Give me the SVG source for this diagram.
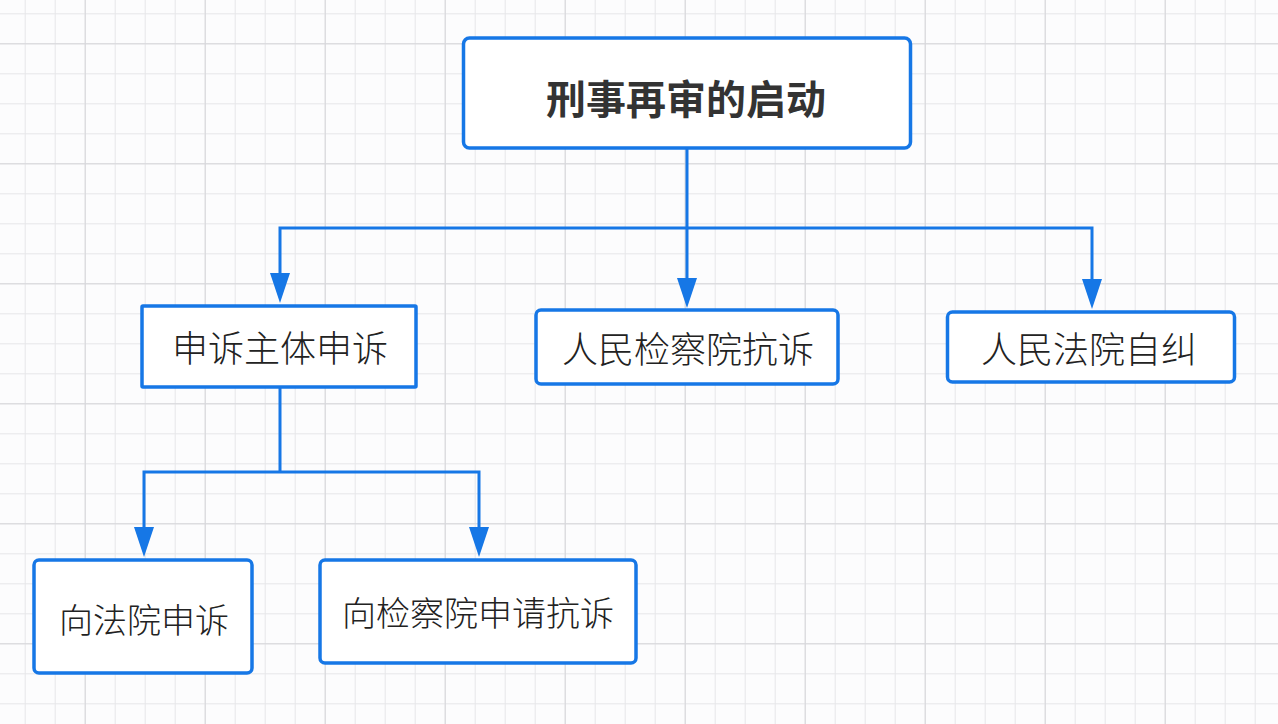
<svg xmlns="http://www.w3.org/2000/svg" width="1278" height="724" viewBox="0 0 1278 724">
<defs>
<style>
.box{fill:#ffffff;stroke:#1677e6;stroke-width:3.5}
.lbl{font-family:"Noto Sans CJK SC","Noto Sans",sans-serif;fill:#222222;text-anchor:middle;dominant-baseline:central;font-weight:300}
.title{font-family:"Noto Sans CJK SC","Noto Sans",sans-serif;fill:#333333;text-anchor:middle;dominant-baseline:central;font-weight:bold;font-size:40px}
.conn{fill:none;stroke:#1677e6;stroke-width:3;marker-end:url(#arr)}
.plain{fill:none;stroke:#1677e6;stroke-width:3}
</style>
<pattern id="minor" width="30" height="30" patternUnits="userSpaceOnUse" x="24.7" y="13.3">
<path d="M0.5 0V30M0 0.5H30" stroke="#e6e6e9" stroke-width="1" fill="none"/>
</pattern>
<pattern id="major" width="120" height="120" patternUnits="userSpaceOnUse" x="84.7" y="43.3">
<path d="M0.5 0V120M0 0.5H120" stroke="#d6d6da" stroke-width="1" fill="none"/>
</pattern>
<marker id="arr" viewBox="0 0 30 20" refX="0" refY="10" markerWidth="30" markerHeight="20" markerUnits="userSpaceOnUse" orient="auto">
<path d="M0 0L30 10L0 20Z" fill="#1677e6"/>
</marker>
</defs>
<rect width="1278" height="724" fill="#fcfcfd"/>
<rect width="1278" height="724" fill="url(#minor)"/>
<rect width="1278" height="724" fill="url(#major)"/>

<g id="connectors">
<path class="plain" d="M687 148V228"/>
<path class="conn" d="M687 228H280V273"/>
<path class="conn" d="M687 228V278"/>
<path class="conn" d="M687 228H1092V279"/>
<path class="plain" d="M280 387V472"/>
<path class="conn" d="M280 472H144V527"/>
<path class="conn" d="M280 472H479V527"/>
</g>

<g id="node-root">
<rect class="box" x="463.5" y="38" width="447" height="110" rx="6"/>
<text class="title" x="686" y="97">刑事再审的启动</text>
</g>
<g id="node-shensu">
<rect class="box" x="142" y="306" width="274" height="81" rx="1"/>
<text class="lbl" x="280" y="346" font-size="36">申诉主体申诉</text>
</g>
<g id="node-jianchayuan">
<rect class="box" x="536" y="310" width="302" height="74" rx="5"/>
<text class="lbl" x="688" y="347" font-size="36">人民检察院抗诉</text>
</g>
<g id="node-fayuan">
<rect class="box" x="947.5" y="312" width="287" height="70" rx="5"/>
<text class="lbl" x="1089" y="347" font-size="36">人民法院自纠</text>
</g>
<g id="node-xiangfayuan">
<rect class="box" x="34" y="560" width="218" height="113" rx="5"/>
<text class="lbl" x="144" y="618" font-size="34">向法院申诉</text>
</g>
<g id="node-xiangjianchayuan">
<rect class="box" x="320" y="560" width="316" height="103" rx="5"/>
<text class="lbl" x="478" y="611" font-size="34">向检察院申请抗诉</text>
</g>
</svg>
